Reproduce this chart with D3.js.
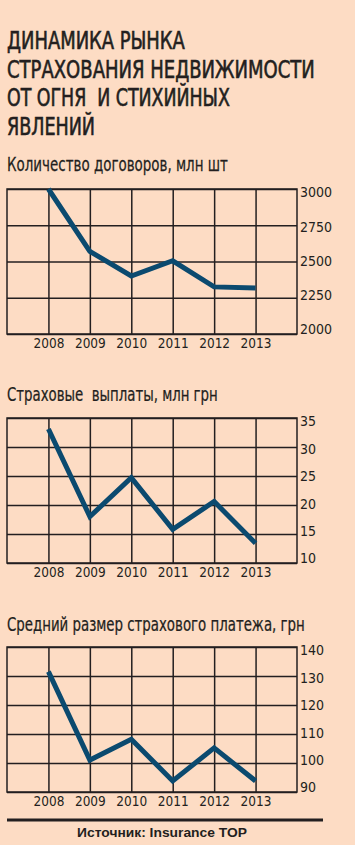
<!DOCTYPE html>
<html><head><meta charset="utf-8">
<script src="https://cdn.jsdelivr.net/npm/d3@7/dist/d3.min.js"></script>
<style>
html,body{margin:0;padding:0;background:#fddcc4;}
svg{display:block;}
text{white-space:pre;}
</style></head>
<body>
<svg id="chart" width="355" height="845"></svg>
<script>
const titleLines = ["ДИНАМИКА РЫНКА", "СТРАХОВАНИЯ НЕДВИЖИМОСТИ", "ОТ ОГНЯ  И СТИХИЙНЫХ", "ЯВЛЕНИЙ"];
const years = [2008, 2009, 2010, 2011, 2012, 2013];

const contractsTitle = "Количество договоров, млн шт";
const contracts = [3000, 2570, 2400, 2505, 2325, 2318];
const contractsTicks = [2000, 2250, 2500, 2750, 3000];

const payoutsTitle = "Страховые  выплаты, млн грн";
const payouts = [33.1, 18.0, 24.7, 15.8, 20.6, 13.4];
const payoutsTicks = [10, 15, 20, 25, 30, 35];

const avgTitle = "Средний размер страхового платежа, грн";
const avgPayment = [131.5, 101, 108.2, 93.8, 105.2, 93.8];
const avgTicks = [90, 100, 110, 120, 130, 140];

const sourceText = "Источник: Insurance TOP";

const ink = "#231f20";
const lineColor = "#0b4a6f";
const narrow = "'Liberation Sans Narrow','DejaVu Sans Condensed','Arial Narrow',sans-serif";

const svg = d3.select("#chart");
svg.append("rect").attr("width", 355).attr("height", 845).attr("fill", "#fddcc4");

// text fitted horizontally to a target width via scaleX transform
function fitText(str, x0, y0, width, size, opts) {
  const t = svg.append("text")
    .attr("x", 0).attr("y", 0)
    .attr("font-family", opts.family || narrow).attr("font-size", size)
    .attr("font-weight", opts.weight || "normal")
    .attr("fill", ink).attr("stroke", ink).attr("stroke-width", opts.stroke || 0)
    .attr("text-anchor", opts.anchor || "start")
    .text(str);
  const natural = t.node().getComputedTextLength();
  const sx = width / natural;
  t.attr("transform", `translate(${x0},${y0}) scale(${sx},1)`);
  return t;
}

// Title
const titleBase = [49, 77.5, 106, 134.5];
const titleWidths = [178, 308, 223, 88];
titleLines.forEach((t, i) => fitText(t, 7, titleBase[i], titleWidths[i], 24, {stroke: 0.6}));

const left = 7, right = 297, h = 145;
const x = d3.scalePoint().domain(years).range([left, right]).padding(1);

function drawChart(title, titleY, titleW, values, ticks, top) {
  const bottom = top + h;
  const ext = d3.extent(ticks);
  const y = d3.scaleLinear().domain(ext).range([bottom, top]);
  const yLab = d3.scaleLinear().domain(ext).range([bottom - 5, top + 3]);

  fitText(title, 7, titleY, titleW, 19.5, {stroke: 0.25});

  const g = svg.append("g");

  const ya = d3.axisRight(y).tickValues(ticks).tickSize(-(right - left)).tickPadding(3).tickFormat(d3.format("d"));
  const gy = g.append("g").attr("transform", `translate(${right},0)`).call(ya);
  gy.select(".domain").remove();
  gy.selectAll(".tick line").attr("stroke", ink).attr("stroke-width", 1.5);
  gy.selectAll(".tick text")
    .attr("x", 3)
    .attr("y", d => yLab(d) - y(d))
    .attr("dy", "0.35em")
    .attr("font-family", narrow).attr("font-size", 14).attr("fill", ink);

  const xa = d3.axisBottom(x).tickSize(-h).tickPadding(0);
  const gx = g.append("g").attr("transform", `translate(0,${bottom})`).call(xa);
  gx.select(".domain").remove();
  gx.selectAll(".tick line").attr("stroke", ink).attr("stroke-width", 1.5);
  gx.selectAll(".tick text")
    .attr("y", 14).attr("dy", 0)
    .attr("font-family", narrow).attr("font-size", 13.5).attr("fill", ink);

  g.append("rect").attr("x", left).attr("y", top).attr("width", right - left).attr("height", h)
    .attr("fill", "none").attr("stroke", ink).attr("stroke-width", 1.5);

  const line = d3.line().x((d, i) => x(years[i])).y(d => y(d));
  g.append("path").datum(values).attr("d", line)
    .attr("fill", "none").attr("stroke", lineColor).attr("stroke-width", 5)
    .attr("stroke-linejoin", "miter").attr("stroke-linecap", "butt");
}

drawChart(contractsTitle, 171, 221, contracts, contractsTicks, 189);
drawChart(payoutsTitle, 401, 211, payouts, payoutsTicks, 418);
drawChart(avgTitle, 631, 298, avgPayment, avgTicks, 647);

// source
svg.append("line").attr("x1", 7).attr("x2", 323).attr("y1", 820).attr("y2", 820)
  .attr("stroke", ink).attr("stroke-width", 3);
fitText(sourceText, 162, 837, 170, 13.5, {family: "'Liberation Sans',Arial,sans-serif", weight: "bold", anchor: "middle"});
</script>
</body></html>
